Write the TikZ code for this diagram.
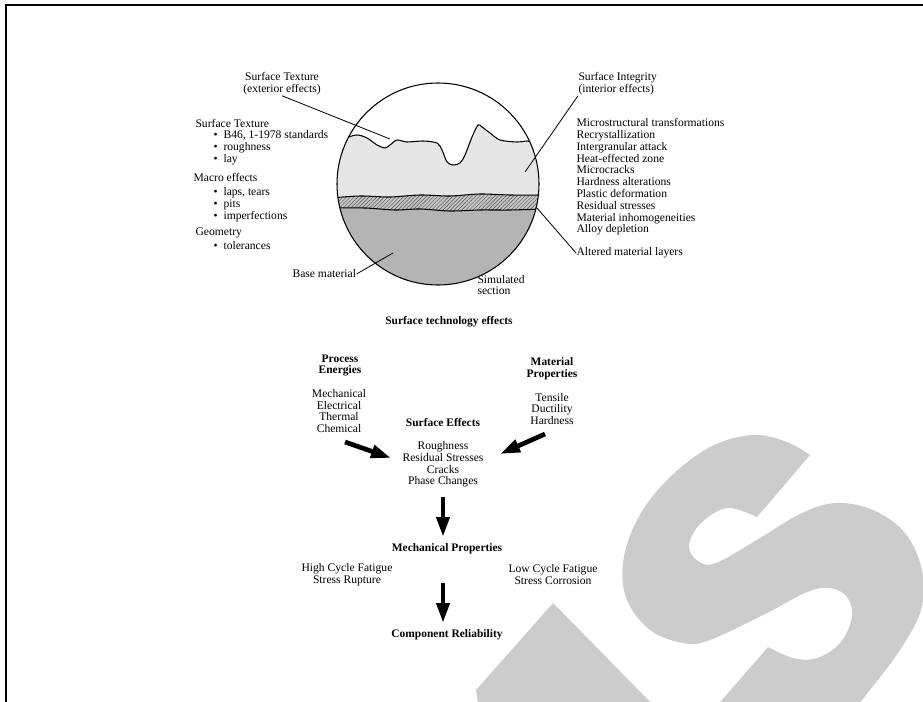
\documentclass[tikz,border=0pt]{standalone}
\usepackage{fontspec}
\setmainfont{Liberation Serif}
\usetikzlibrary{arrows.meta,patterns.meta}
\definecolor{gris}{HTML}{cccccc}
\definecolor{claro}{HTML}{e6e6e6}
\definecolor{oscuro}{HTML}{b4b4b4}
\newcommand{\itm}{\makebox[7.5pt][l]{\textbullet}}

\tikzset{
  lbl/.style={font=\fontsize{8.7}{8.85}\selectfont, inner sep=0pt, align=left},
  ctr/.style={font=\fontsize{8.7}{8.85}\selectfont, inner sep=0pt, align=center},
  tit/.style={ctr, font=\fontsize{8.6}{8.85}\selectfont\bfseries},
  guia/.style={line width=0.6pt},
  flecha/.style={line width=3.5pt, -{Triangle[length=15pt,width=9.5pt]}}
}

\begin{document}
\begin{tikzpicture}[x=0.75pt,y=-0.75pt,line width=0.8pt]

  \useasboundingbox (0,0) rectangle (923,702);

  % big grey letter in the back
  \begin{scope}
    \clip (0,0) rectangle (923,702);
    \fill[gris] (810,455) -- (757,517) -- plot[smooth,tension=0.6] coordinates {(757,517) (727,508)
      (700,524) (689,546) (698,561) (716,563) (760,538) (800,514) (835,503) (873,510) (905,533)
      (922,570) (921,610) (900,650) (870,690) (850,715)} -- (709,715) -- (768,647) --
      plot[smooth,tension=0.6] coordinates {(768,647) (793,658) (817,658) (840,643) (852,617)
      (847,597) (830,588) (807,592) (767,613) (710,640) (683,643) (650,630) (627,600) (623,563)
      (637,520) (667,480) (710,447) (753,435) (787,442) (810,455)} -- cycle;
    \fill[gris] (553,603) -- (476,690) -- (480,715) -- (663,715) -- cycle;
    \draw[line width=1.5pt] (930,5.5) -- (5.5,5.5) -- (5.5,710);
  \end{scope}

  % simulated section
  \begin{scope}
    \clip (438,184) circle (101);
    \fill[claro] plot[smooth,tension=0.5] coordinates {(330,142) (345,138) (357,135) (367,138)
      (377,145) (385,148) (390,145) (397,140) (407,142) (423,141) (437,143) (442,150) (447,162)
      (453,165) (460,163) (465,155) (472,137) (478,125) (482,127) (490,133) (500,140) (517,142)
      (527,141) (533,142) (545,145)} -- (545,196) -- (330,196) -- cycle;
    \fill[oscuro] (330,208) -- plot[smooth] coordinates {(330,208) (365,208) (395,210) (420,209)
      (450,211) (480,210) (510,210) (545,209)} -- (545,300) -- (330,300) -- cycle;
    \fill[black!22] plot[smooth] coordinates {(330,198) (360,196) (390,197) (420,195) (450,196)
      (480,194) (510,195) (545,195)} -- plot[smooth] coordinates {(545,209) (510,210) (480,210)
      (450,211) (420,209) (395,210) (365,208) (330,208)} -- cycle;
    \fill[pattern={Lines[angle=45,distance=2pt,line width=0.35pt]},pattern color=black!70]
      plot[smooth] coordinates {(330,198) (360,196) (390,197) (420,195) (450,196) (480,194)
      (510,195) (545,195)} -- plot[smooth] coordinates {(545,209) (510,210) (480,210) (450,211)
      (420,209) (395,210) (365,208) (330,208)} -- cycle;
    \draw plot[smooth,tension=0.5] coordinates {(330,142) (345,138) (357,135) (367,138)
      (377,145) (385,148) (390,145) (397,140) (407,142) (423,141) (437,143) (442,150) (447,162)
      (453,165) (460,163) (465,155) (472,137) (478,125) (482,127) (490,133) (500,140) (517,142)
      (527,141) (533,142) (545,145)};
    \draw plot[smooth] coordinates {(330,198) (360,196) (390,197) (420,195) (450,196) (480,194)
      (510,195) (545,195)};
    \draw plot[smooth] coordinates {(330,208) (365,208) (395,210) (420,209) (450,211) (480,210)
      (510,210) (545,209)};
  \end{scope}
  \draw (438,184) circle (101);

  % labels round the section
  \node[ctr] (tex-ext) at (282,84) {Surface Texture\\(exterior effects)};
  \node[lbl,anchor=west] (int-lbl) at (578,84) {Surface Integrity\\(interior effects)};
  \node[lbl,anchor=west] (alt-lbl) at (576,253) {Altered material layers};
  \node[lbl,anchor=west] (base-lbl) at (292,274) {Base material};
  \node[lbl,anchor=west] (sim-lbl) at (477,285) {Simulated\\section};

  \coordinate (tex-pt) at (390,139);
  \coordinate (int-pt) at (525,172);
  \coordinate (alt-pt) at (537,208);
  \coordinate (base-pt) at (393,253);
  \draw[guia] (tex-ext.south) -- (tex-pt);
  \draw[guia] (int-lbl.south west) -- (int-pt);
  \draw[guia] (alt-lbl.west) -- (alt-pt);
  \draw[guia] (base-lbl.east) -- (base-pt);

  \node[lbl,anchor=west] (tex-head) at (195,123) {Surface Texture};
  \node[lbl,anchor=west] (tex-items) at (213,148) {\itm B46, 1-1978 standards\\\itm roughness\\\itm lay};
  \node[lbl,anchor=west] (macro-head) at (193,177) {Macro effects};
  \node[lbl,anchor=west] (macro-items) at (213,204.5) {\itm laps, tears\\\itm pits\\\itm imperfections};
  \node[lbl,anchor=west] (geo-head) at (195,233) {Geometry};
  \node[lbl,anchor=west] (geo-items) at (213,246) {\itm tolerances};

  \node[lbl,anchor=west] (int-items) at (576,177) {Microstructural transformations\\Recrystallization\\
    Intergranular attack\\Heat-effected zone\\Microcracks\\Hardness alterations\\
    Plastic deformation\\Residual stresses\\Material inhomogeneities\\Alloy depletion};

  \node[tit] (titulo) at (449,322) {Surface technology effects};

  % flow of effects
  \node[tit] (energias) at (340,365.5) {Process\\Energies};
  \node[ctr] (energias-list) at (339,411) {Mechanical\\Electrical\\Thermal\\Chemical};
  \node[tit] (props) at (552,368.5) {Material\\Properties};
  \node[ctr] (props-list) at (552,409) {Tensile\\Ductility\\Hardness};
  \node[tit] (efectos) at (443,423) {Surface Effects};
  \node[ctr] (efectos-list) at (443,464.5) {Roughness\\Residual Stresses\\Cracks\\Phase Changes};
  \node[tit] (mecanicas) at (447,549) {Mechanical Properties};
  \node[ctr] (hcf) at (347,574.5) {High Cycle Fatigue\\Stress Rupture};
  \node[ctr] (lcf) at (553,574.5) {Low Cycle Fatigue\\Stress Corrosion};
  \node[tit] (fiabilidad) at (447,635) {Component Reliability};

  \coordinate (F1a) at (345,442);
  \coordinate (F1b) at (391,458);
  \coordinate (F2a) at (545,434);
  \coordinate (F2b) at (500,454);
  \coordinate (F3a) at (443,497);
  \coordinate (F3b) at (443,537);
  \coordinate (F4a) at (443,583);
  \coordinate (F4b) at (443,623);
  \draw[flecha] (F1a) -- (F1b);
  \draw[flecha] (F2a) -- (F2b);
  \draw[flecha] (F3a) -- (F3b);
  \draw[flecha] (F4a) -- (F4b);

\end{tikzpicture}
\end{document}
